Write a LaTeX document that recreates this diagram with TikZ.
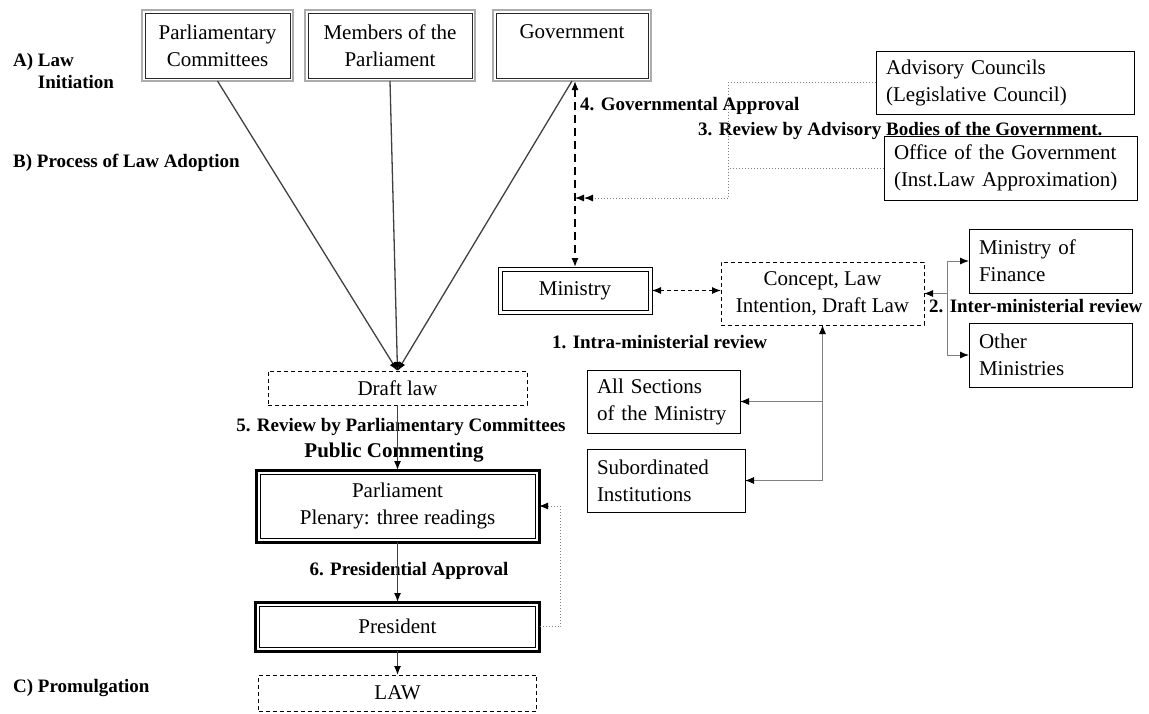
\documentclass[tikz,border=0pt]{standalone}
\usepackage{fontspec}
\setmainfont{Liberation Serif}
\usetikzlibrary{positioning,arrows.meta}

\newcommand{\boxfont}{\fontsize{21}{27}\selectfont}
\newcommand{\stagefont}{\fontsize{19}{22}\selectfont\bfseries}

\begin{document}
\begin{tikzpicture}[
    x=1pt, y=-1pt,
    >={Latex[length=9pt, width=7pt, color=black]},
    box/.style={rectangle, draw, inner sep=0pt, outer sep=0pt, font=\boxfont, align=center},
    leftbox/.style={box, align=left, inner xsep=10pt, line width=0.8pt},
    dashbox/.style={box, line width=0.8pt, dash pattern=on 4pt off 3pt},
    topbox/.style={box, draw=gray!65, line width=2.6pt},
    parlbox/.style={box, draw=black, line width=3pt},
    minbox/.style={box, line width=1pt},
    stage/.style={inner sep=0pt, font=\stagefont},
    flow/.style={->, line width=1.3pt, draw=black!75},
    govlink/.style={<->, line width=1.3pt, dash pattern=on 8pt off 5pt},
    minlink/.style={<->, line width=1.1pt, dash pattern=on 4pt off 3pt},
    advlink/.style={gray, line width=1pt, dotted},
    review/.style={->, gray, line width=0.9pt},
    feed/.style={->, gray, line width=1pt, dotted}
]
\useasboundingbox (0,0) rectangle (1149,713);

% stages
\node[stage, anchor=west, align=left] (lawinit) at (13,73) {A) Law\\\phantom{A) }Initiation};
\node[stage, anchor=west] (adoption) at (13,163) {B) Process of Law Adoption};
\node[stage, anchor=west] (promulg) at (13,688) {C) Promulgation};

% initiators
\node[topbox, minimum width=151pt, minimum height=71pt] (pc) at (217.5,45.5) {Parliamentary\\Committees};
\node[topbox, minimum width=170pt, minimum height=71pt, right=12pt of pc] (mp) {Members of the\\Parliament};
\node[topbox, minimum width=158pt, minimum height=71pt, right=18pt of mp] (gov) {Government\\\mbox{}};

% government side
\node[stage, anchor=west] (govappr) at (580,106) {4. Governmental Approval};
\node[stage, anchor=west] (advrev) at (698,131) {3. Review by Advisory Bodies of the Government.};
\node[leftbox, text width=238pt, minimum height=63pt] (adv) at (1005,82.5) {Advisory Councils\\(Legislative Council)};
\node[leftbox, text width=233pt, minimum height=64pt] (off) at (1010.5,168) {Office of the Government\\(Inst.Law Approximation)};

\node[minbox, minimum width=154pt, minimum height=47pt] (min) at (575,290.5) {Ministry};
\node[dashbox, minimum width=203pt, minimum height=63pt] (concept) at (822.5,293.5) {Concept, Law\\Intention, Draft Law};
\node[leftbox, text width=143pt, minimum height=64pt] (fin) at (1050.5,261) {Ministry of\\Finance};
\node[leftbox, text width=143pt, minimum height=64pt, below=30pt of fin] (oth) {Other\\Ministries};
\node[stage, anchor=west] (interrev) at (929,306) {2. Inter-ministerial review};
\node[stage, anchor=west] (intrarev) at (552,342) {1. Intra-ministerial review};
\node[leftbox, text width=133pt, minimum height=63pt] (allsec) at (663.5,401.5) {All Sections\\of the Ministry};
\node[leftbox, text width=138pt, minimum height=63pt] (sub) at (666,480.5) {Subordinated\\Institutions};

% parliament side
\node[dashbox, minimum width=259pt, minimum height=34pt] (draft) at (397.5,388) {Draft law};
\node[stage] (parlrev) at (401,427) {5. Review by Parliamentary Committees};
\node[stage, font=\fontsize{21}{24}\selectfont\bfseries] (pubcom) at (394,453) {Public Commenting};
\node[parlbox, minimum width=283pt, minimum height=72pt, below=65pt of draft] (parl) {Parliament\\Plenary: three readings};
\node[stage] (presappr) at (409,571) {6. Presidential Approval};
\node[parlbox, minimum width=284pt, minimum height=49pt, below=60pt of parl] (pres) {President};
\node[dashbox, minimum width=278pt, minimum height=36pt, below=24pt of pres] (law) {LAW};

% inner frames
\foreach \n in {pc,mp,gov}
  \draw[line width=0.8pt, black!85] ([xshift=3pt,yshift=-3pt]\n.north west) rectangle ([xshift=-3pt,yshift=3pt]\n.south east);
\foreach \n in {parl,pres,min}
  \draw[line width=1pt] ([xshift=4pt,yshift=-4pt]\n.north west) rectangle ([xshift=-4pt,yshift=4pt]\n.south east);

% initiation into the draft law
\foreach \src in {pc,mp,gov}
  \draw[flow] (\src.south) -- (draft.north);

% government procedure
\draw[govlink] (min.north |- gov.south) -- (min.north);
\coordinate (advjoin) at (728,198);
\draw[advlink, ->>] (adv.west) -| (advjoin) -- (min.north |- advjoin);
\draw[advlink] (off.west) -- (off.west -| advjoin);
\draw[minlink] (min.east) -- (min.east -| concept.west);

\coordinate (interjoin) at (947,293.5);
\draw[review] (interjoin) -- (concept.east);
\draw[review] (interjoin) |- (fin.west);
\draw[review] (interjoin) |- (oth.west);

\coordinate (intrajoin) at (concept.south |- sub.east);
\draw[review] (intrajoin) -- (concept.south);
\draw[review] (intrajoin) -- (sub.east);
\draw[review] (allsec.east -| intrajoin) -- (allsec.east);

% parliamentary procedure
\draw[flow] (draft) -- (parl);
\draw[flow] (parl) -- (pres);
\draw[flow] (pres) -- (law);
\draw[feed] (pres.east) -- ++(21,0) |- (parl.east);
\end{tikzpicture}
\end{document}
